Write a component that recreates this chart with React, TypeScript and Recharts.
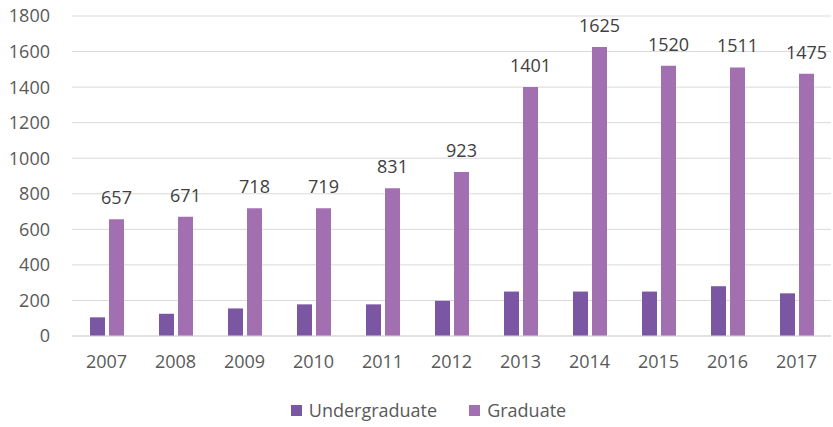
import React from 'react';
import {
  BarChart,
  Bar,
  XAxis,
  YAxis,
  CartesianGrid,
  Legend,
  LabelList,
} from 'recharts';

const years = ['2007', '2008', '2009', '2010', '2011', '2012', '2013', '2014', '2015', '2016', '2017'];
const undergraduate = [105, 125, 155, 178, 178, 198, 250, 250, 250, 280, 240];
const graduate = [657, 671, 718, 719, 831, 923, 1401, 1625, 1520, 1511, 1475];
const yTicks = [0, 200, 400, 600, 800, 1000, 1200, 1400, 1600, 1800];

const data = years.map((year, i) => ({
  year,
  undergraduate: undergraduate[i],
  graduate: graduate[i],
}));

const UG_COLOR = '#7a56a3';
const G_COLOR = '#a270b1';
const FONT = '"Open Sans", sans-serif';

const LegendBox = () => {
  const items = [
    { label: 'Undergraduate', color: UG_COLOR },
    { label: 'Graduate', color: G_COLOR },
  ];
  return (
    <div
      style={{
        height: 30,
        display: 'flex',
        justifyContent: 'center',
        alignItems: 'center',
        gap: 32,
        paddingLeft: 26,
        fontFamily: FONT,
        fontSize: 18,
        color: '#595959',
      }}
    >
      {items.map((it) => (
        <div key={it.label} style={{ display: 'flex', alignItems: 'center' }}>
          <span style={{ width: 11, height: 11, background: it.color, marginRight: 7, display: 'inline-block' }} />
          <span>{it.label}</span>
        </div>
      ))}
    </div>
  );
};

const App: React.FC = () => {
  return (
    <div style={{ position: 'absolute', left: 0, top: 0, width: 833, height: 427, background: '#fff' }}>
      <BarChart
        width={833}
        height={427}
        data={data}
        margin={{ top: 16, right: 2, left: 0, bottom: 2 }}
        barSize={15}
        barGap={4}
      >
        <CartesianGrid vertical={false} stroke="#d9d9d9" />
        <XAxis
          dataKey="year"
          height={59}
          axisLine={{ stroke: '#d9d9d9' }}
          tickLine={false}
          tickSize={6}
          tickMargin={13}
          tick={{ fill: '#595959', fontSize: 18, fontFamily: FONT }}
        />
        <YAxis
          width={72}
          domain={[0, 1800]}
          ticks={yTicks}
          axisLine={false}
          tickLine={false}
          tickSize={6}
          tickMargin={16}
          tick={{ fill: '#595959', fontSize: 18, fontFamily: FONT }}
        />
        <Legend verticalAlign="bottom" content={() => <LegendBox />} />
        <Bar dataKey="undergraduate" name="Undergraduate" fill={UG_COLOR} isAnimationActive={false} />
        <Bar dataKey="graduate" name="Graduate" fill={G_COLOR} isAnimationActive={false}>
          <LabelList
            dataKey="graduate"
            position="top"
            offset={15}
            fill="#404040"
            fontSize={18}
            fontFamily={FONT}
          />
        </Bar>
      </BarChart>
    </div>
  );
};

export default App;
